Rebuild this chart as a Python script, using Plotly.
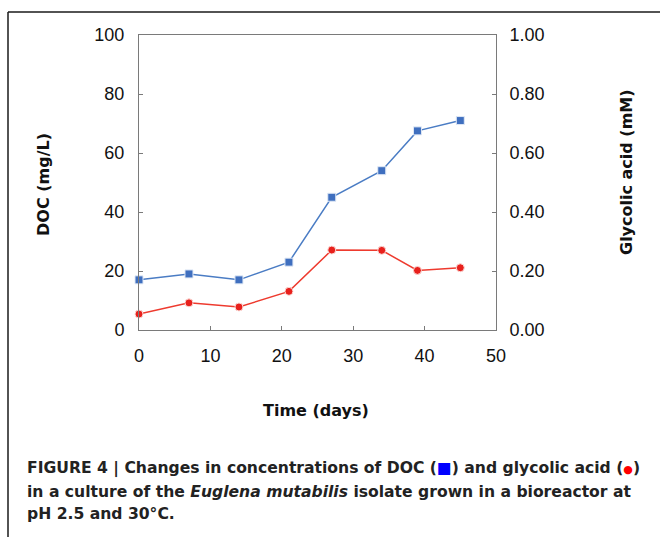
import plotly.graph_objects as go

days = [0, 7, 14, 21, 27, 34, 39, 45]
doc_mg_l = [17.0, 19.0, 17.0, 23.0, 45.0, 54.0, 67.5, 71.0]
glycolic_mm = [0.054, 0.092, 0.078, 0.131, 0.271, 0.270, 0.202, 0.211]

y_left_ticks = [0, 20, 40, 60, 80, 100]
y_right_ticks = [0.0, 0.2, 0.4, 0.6, 0.8, 1.0]
y_right_labels = ["0.00", "0.20", "0.40", "0.60", "0.80", "1.00"]
x_ticks = [0, 10, 20, 30, 40, 50]

caption_lines = [
    "FIGURE 4 | Changes in concentrations of DOC (<span style='color:#0000ff'>■</span>) and glycolic acid (<span style='color:#ff0000;font-size:11px'>●</span>)",
    "in a culture of the <i>Euglena mutabilis</i> isolate grown in a bioreactor at",
    "pH 2.5 and 30°C.",
]

W, H = 660, 537
L, R, T, B = 139, 496, 35, 330

def px(x):
    return (x - L) / (R - L)

def py(y):
    return (B - y) / (B - T)

fig = go.Figure()
fig.add_trace(go.Scatter(
    x=days, y=doc_mg_l, mode="lines+markers", name="DOC",
    line=dict(color="#4a7cc4", width=1.5),
    marker=dict(symbol="square", size=8, color="#3f6fbf", line=dict(color="#dfe8f5", width=1)),
    yaxis="y", cliponaxis=False,
))
fig.add_trace(go.Scatter(
    x=days, y=glycolic_mm, mode="lines+markers", name="Glycolic acid",
    line=dict(color="#ee3a2e", width=1.5),
    marker=dict(symbol="circle", size=8, color="#e8201c", line=dict(color="#fbdcd8", width=1)),
    yaxis="y2", cliponaxis=False,
))

tickfont = dict(family="Liberation Sans, Arial, sans-serif", size=18, color="#111")
axcol = "#7a7a7a"

fig.update_layout(
    width=W, height=H,
    margin=dict(l=L, r=W - R, t=T, b=H - B, pad=0),
    paper_bgcolor="white", plot_bgcolor="white",
    showlegend=False,
    xaxis=dict(range=[0, 50], tickvals=x_ticks, ticks="inside", ticklen=4, tickcolor=axcol,
               showline=True, linecolor=axcol, linewidth=1, mirror=True, showgrid=False,
               zeroline=False, tickfont=tickfont, ticklabelstandoff=9),
    yaxis=dict(range=[0, 100], tickvals=y_left_ticks, ticks="inside", ticklen=4, tickcolor=axcol,
               showline=True, linecolor=axcol, linewidth=1, showgrid=False, zeroline=False,
               tickfont=tickfont, ticklabelstandoff=10),
    yaxis2=dict(range=[0, 1], tickvals=y_right_ticks, ticktext=y_right_labels, overlaying="y",
                side="right", ticks="inside", ticklen=4, tickcolor=axcol,
                showline=True, linecolor=axcol, linewidth=1, showgrid=False, zeroline=False,
                tickfont=tickfont, ticklabelstandoff=9),
)

titlefont = dict(family="DejaVu Sans, Verdana, sans-serif", size=16, color="#111")
fig.add_annotation(text="<b>DOC (mg/L)</b>", xref="paper", yref="paper", x=px(43), y=py(185),
                   textangle=-90, showarrow=False, font=titlefont, xanchor="center", yanchor="middle")
fig.add_annotation(text="<b>Glycolic acid (mM)</b>", xref="paper", yref="paper", x=px(626), y=py(172),
                   textangle=-90, showarrow=False, font=titlefont, xanchor="center", yanchor="middle")
fig.add_annotation(text="<b>Time (days)</b>", xref="paper", yref="paper", x=px(316), y=py(410),
                   showarrow=False, font=titlefont, xanchor="center", yanchor="middle")

capfont = dict(family="DejaVu Sans, sans-serif", size=15.6, color="#222")
for i, line in enumerate(caption_lines):
    fig.add_annotation(text="<b>" + line + "</b>", xref="paper", yref="paper", x=px(25), y=py(469 + 22.5 * i),
                       showarrow=False, font=capfont, xanchor="left", yanchor="middle", align="left")

# outer frame (top and left rules)
fig.add_shape(type="line", xref="paper", yref="paper", x0=px(8), x1=px(W + 5), y0=py(12), y1=py(12),
              line=dict(color="#1a1a1a", width=1.5))
fig.add_shape(type="line", xref="paper", yref="paper", x0=px(8), x1=px(8), y0=py(12), y1=py(H + 5),
              line=dict(color="#1a1a1a", width=1.5))

fig.write_html("out.html")
